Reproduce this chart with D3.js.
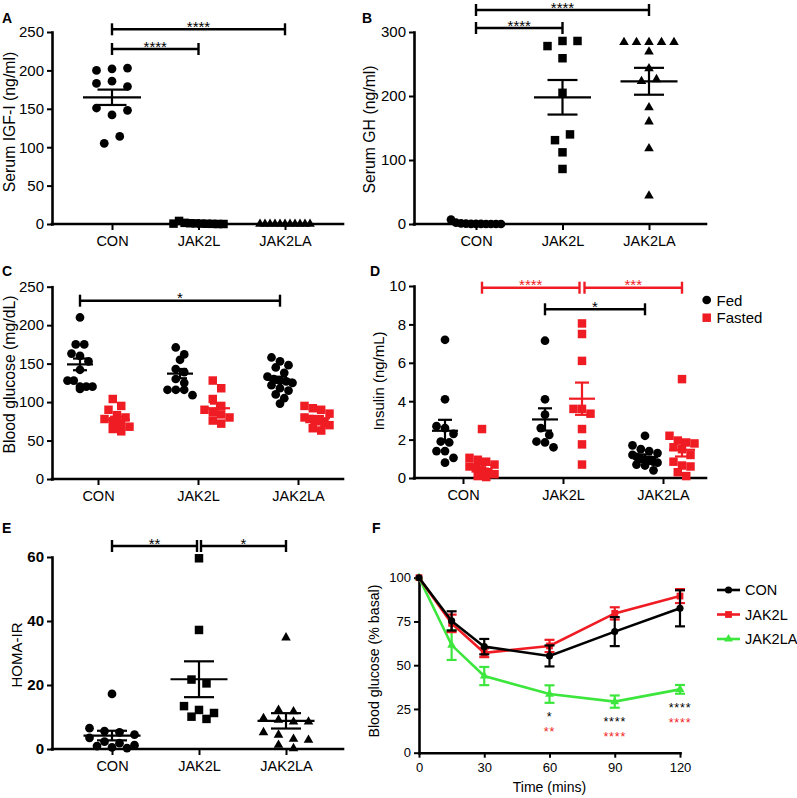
<!DOCTYPE html>
<html><head><meta charset="utf-8">
<script src="https://cdn.jsdelivr.net/npm/d3@7"></script>
<style>body{margin:0;background:#fff}svg{display:block}</style>
</head><body><svg id="c" width="797" height="798"></svg>
<script>
// ---------------- DATA ----------------
const groups = ["CON", "JAK2L", "JAK2LA"];

// A: Serum IGF-I (ng/ml)
const igfCON = [200, 202, 203, 183, 186, 179, 151, 142, 148, 105, 114];
const igfJAK2L = [0.5, 4, 1.5, 1, 0.8, 0.5, 0.3, 0.2, 0, 0];
const igfJAK2LA = [0, 0, 0, 0, 0, 0, 0, 0, 0, 0, 0];
const igfMean = [165, 0.9, 0];
const igfSem = [10, 0.4, 0];

// B: Serum GH (ng/ml)
const ghCON = [7, 2, 1, 0.5, 0.3, 0.2, 0.1, 0, 0, 0, 0];
const ghJAK2L = [278, 286, 286, 259, 205, 131, 140, 112, 86];
const ghJAK2LA = [284, 284, 284, 284, 284, 269, 243, 223, 226, 182, 160, 118, 44];
const ghMean = [1, 198, 223];
const ghSem = [0.6, 27, 21];

// C: Blood glucose (mg/dL)
const gluFedCON = [210, 175, 175, 163, 160, 153, 142, 128, 128, 120, 120, 120, 117];
const gluFedJAK2L = [171, 162, 155, 143, 139, 130, 125, 116, 116, 116, 109];
const gluFedJAK2LA = [158, 153, 148, 145, 138, 133, 130, 128, 127, 125, 122, 118, 115, 110, 105, 98];
const gluFastCON = [104, 95, 90, 83, 80, 78, 75, 72, 68, 65, 62];
const gluFastJAK2L = [128, 118, 104, 95, 90, 87, 84, 80, 76, 72];
const gluFastJAK2LA = [95, 92, 90, 85, 80, 78, 76, 75, 73, 70, 66, 63];
const gluFedMean = [149, 137, 129];
const gluFedSem = [7.6, 6, 4];
const gluFastMean = [77, 92, 79];
const gluFastSem = [4, 6, 3];

// D: Insulin (ng/mL)
const insFedCON = [7.2, 4.1, 2.7, 2.6, 2.3, 1.9, 1.85, 1.4, 1.4, 1.05, 0.8];
const insFedJAK2L = [7.15, 4.1, 3.3, 2.6, 2.25, 1.9, 1.85, 1.6];
const insFedJAK2LA = [2.2, 1.7, 1.5, 1.4, 1.3, 1.2, 1.1, 1.0, 0.95, 0.9, 0.85, 0.8, 0.7, 0.65, 0.4];
const insFastCON = [2.55, 1.05, 0.95, 0.85, 0.7, 0.6, 0.5, 0.4, 0.3, 0.2, 0.1, 0.05];
const insFastJAK2L = [8.05, 7.5, 6.1, 3.6, 3.6, 3.35, 2.55, 1.75, 0.7];
const insFastJAK2LA = [5.15, 2.2, 1.95, 1.85, 1.8, 1.6, 1.5, 1.2, 0.85, 0.65, 0.6, 0.3, 0.1];
const insFedMean = [2.46, 3.05, 1.1];
const insFedSem = [0.57, 0.58, 0.13];
const insFastMean = [0.69, 4.13, 1.47];
const insFastSem = [0.2, 0.84, 0.35];

// E: HOMA-IR
const homaCON = [17.2, 6.5, 5.6, 5.2, 4.5, 3.5, 2.3, 1.8, 1.2, 0.9, 0.5, 0.3];
const homaJAK2L = [59.6, 37.2, 21.7, 20.5, 13.4, 12.2, 11.25, 10.1, 9.4];
const homaJAK2LA = [34.8, 12.2, 11.7, 9.6, 9.1, 8.5, 8.5, 5.2, 4.4, 3.1, 2.8, 1.25, 0.2];
const homaMean = [4.2, 21.8, 8.8];
const homaSem = [1.5, 5.6, 2.4];

// F: ITT Blood glucose (% basal)
const timeMins = [0, 15, 30, 60, 90, 120];
const ittCON = [100, 75.3, 60.6, 55.3, 69.2, 82.5];
const ittCONsem = [0, 5.5, 4.4, 6, 8.3, 10.3];
const ittJAK2L = [100, 73.9, 57.1, 61, 79.6, 89.5];
const ittJAK2Lsem = [0, 5, 2.5, 3.5, 3.5, 4];
const ittJAK2LA = [100, 61.5, 43.8, 33.5, 29.2, 36.2];
const ittJAK2LAsem = [0, 8.5, 5.2, 5, 3.5, 2.5];
const ittSigTimes = [60, 90, 120];
const ittSigVsCON = ["*", "****", "****"];
const ittSigVsJAK2L = ["**", "****", "****"];

// ---------------- DRAWING ----------------
const FONT = '"Liberation Sans", Arial, Helvetica, sans-serif';
const RED = "#ef1c24", GREEN = "#3de63d", BLACK = "#000";
const svg = d3.select("#c").style("font-family", FONT);
svg.append("rect").attr("width", 797).attr("height", 798).attr("fill", "#fff");

function line(g, x1, y1, x2, y2, color, w) {
  g.append("line").attr("x1", x1).attr("y1", y1).attr("x2", x2).attr("y2", y2)
    .attr("stroke", color).attr("stroke-width", w);
}

// row-based scatter spreading (points at similar height are spread side by side)
function swarm(vals, y, spacing, maxSpan, binH) {
  const idx = vals.map((v, i) => i).sort((a, b) => vals[b] - vals[a]);
  const rows = []; let cur = null;
  idx.forEach(i => {
    const py = y(vals[i]);
    if (cur && Math.abs(py - cur.y0) < binH) cur.items.push(i);
    else { cur = { y0: py, items: [i] }; rows.push(cur); }
  });
  const off = new Array(vals.length).fill(0);
  rows.forEach(r => {
    const n = r.items.length; if (n < 2) return;
    const s = Math.min(spacing, maxSpan / (n - 1));
    r.items.slice().sort((a, b) => a - b).forEach((i, k) => off[i] = (k - (n - 1) / 2) * s);
  });
  return off;
}

const SHAPES = {
  circle: d3.symbol(d3.symbolCircle, 60)(),
  square: d3.symbol(d3.symbolSquare, 72)(),
  triangle: d3.symbol(d3.symbolTriangle, 40)(),
  circleS: d3.symbol(d3.symbolCircle, 40)(),
  squareS: d3.symbol(d3.symbolSquare, 46)(),
  triangleS: d3.symbol(d3.symbolTriangle, 34)()
};

function styleAxis(ag, fs, bold) {
  ag.select(".domain").attr("stroke", "#000").attr("stroke-width", 2.6).attr("stroke-linecap", "square");
  ag.selectAll(".tick line").attr("stroke", "#000").attr("stroke-width", 2);
  ag.selectAll(".tick text").attr("fill", "#000").style("font-size", fs + "px")
    .style("font-family", FONT).style("font-weight", bold ? "bold" : "normal");
}

function bracket(g, xa, xb, y, label, color) {
  line(g, xa, y, xb, y, color, 2.4);
  line(g, xa, y - 6, xa, y + 6, color, 2.4);
  line(g, xb, y - 6, xb, y + 6, color, 2.4);
  g.append("text").attr("x", (xa + xb) / 2).attr("y", y + 2.6).attr("text-anchor", "middle")
    .style("font-size", "15px").attr("fill", color).text(label);
}

function drawMeanSem(g, cx, y, m, e, meanW, capW, color) {
  line(g, cx - meanW, y(m), cx + meanW, y(m), color, 2.2);
  line(g, cx, y(m + e), cx, y(m - e), color, 2.2);
  line(g, cx - capW, y(m + e), cx + capW, y(m + e), color, 2.2);
  line(g, cx - capW, y(m - e), cx + capW, y(m - e), color, 2.2);
}

function frame(cfg) {
  const g = svg.append("g");
  const y = d3.scaleLinear().domain(cfg.yDomain).range([cfg.yBot, cfg.yTop]);
  const x = d3.scalePoint().domain(groups).range(cfg.catRange);
  const ya = d3.axisLeft(y).tickValues(cfg.yTicks).tickSize(5).tickSizeOuter(0).tickPadding(3);
  const yg = g.append("g").attr("transform", `translate(${cfg.x0},0)`).call(ya);
  styleAxis(yg, cfg.tickFs, cfg.boldTicks);
  const xa = d3.axisBottom(x).tickSize(6).tickSizeOuter(0).tickPadding(6);
  const xg = g.append("g").attr("transform", `translate(0,${cfg.yBot})`).call(xa);
  xg.select(".domain").attr("d", `M${cfg.x0},0H${cfg.x1}`);
  styleAxis(xg, 14.5, false);
  g.append("text").attr("transform", `translate(${cfg.titleX},${cfg.titleY}) rotate(-90)`)
    .attr("text-anchor", "middle").style("font-size", cfg.titleFs + "px").attr("fill", "#000").text(cfg.title);
  g.append("text").attr("x", cfg.lab[0]).attr("y", cfg.lab[1]).style("font-size", "14px")
    .style("font-weight", "bold").attr("fill", "#000").text(cfg.label);
  return { g, x, y };
}

// Panels with two series (Fed / Fasted) side by side in each group
function pairedPanel(cfg) {
  const { g, x, y } = frame(cfg);
  cfg.series.forEach(s => {
    groups.forEach((grp, gi) => {
      const vals = s.values[gi];
      const cx = x(grp) + s.dx;
      const offs = swarm(vals, y, cfg.spacing, cfg.maxSpan, cfg.binH);
      vals.forEach((v, i) => g.append("path").attr("d", SHAPES[s.shape])
        .attr("transform", `translate(${cx + offs[i]},${y(v)})`).attr("fill", s.color));
      drawMeanSem(g, cx, y, s.mean[gi], s.sem[gi], cfg.meanW, cfg.capW, s.color);
    });
  });
  cfg.sig.forEach(b => {
    const xa = x(b.from) + cfg.series[b.s].dx + (b.nudgeA || 0);
    const xb = x(b.to) + cfg.series[b.s].dx + (b.nudgeB || 0);
    bracket(g, xa, xb, b.y, b.label, b.color || BLACK);
  });
}

// Panels with one series, symbol shape per group
const shapesByGroup = ["circle", "square", "triangle"];
function groupShapePanel(cfg) {
  const { g, x, y } = frame(cfg);
  groups.forEach((grp, gi) => {
    const vals = cfg.values[gi];
    const cx = x(grp);
    const offs = swarm(vals, y, cfg.spacing, cfg.maxSpan, cfg.binH);
    vals.forEach((v, i) => g.append("path").attr("d", SHAPES[shapesByGroup[gi]])
      .attr("transform", `translate(${cx + offs[i]},${y(v)})`).attr("fill", BLACK));
    drawMeanSem(g, cx, y, cfg.mean[gi], cfg.sem[gi], cfg.meanW, cfg.capW, BLACK);
  });
  cfg.sig.forEach(b => bracket(g, x(b.from) + (b.nudgeA || 0), x(b.to) + (b.nudgeB || 0), b.y, b.label, BLACK));
}

// A
groupShapePanel({
  label: "A", lab: [2, 23],
  x0: 52, x1: 343, yTop: 32, yBot: 224, yDomain: [0, 250], yTicks: [0, 50, 100, 150, 200, 250],
  catRange: [112, 285], tickFs: 15, title: "Serum IGF-I (ng/ml)", titleX: 14.5, titleY: 122, titleFs: 15.8,
  spacing: 15.5, maxSpan: 50, binH: 8, meanW: 29, capW: 14.5,
  values: [igfCON, igfJAK2L, igfJAK2LA], mean: igfMean, sem: igfSem,
  sig: [{ from: "CON", to: "JAK2LA", y: 29.3, label: "****" }, { from: "CON", to: "JAK2L", y: 49, label: "****" }]
});

// B
groupShapePanel({
  label: "B", lab: [362, 23],
  x0: 414, x1: 706, yTop: 32, yBot: 224, yDomain: [0, 300], yTicks: [0, 100, 200, 300],
  catRange: [476, 649], tickFs: 15, title: "Serum GH (ng/ml)", titleX: 375, titleY: 129.5, titleFs: 15.8,
  spacing: 15, maxSpan: 50, binH: 8, meanW: 28.5, capW: 15,
  values: [ghCON, ghJAK2L, ghJAK2LA], mean: ghMean, sem: ghSem,
  sig: [{ from: "CON", to: "JAK2LA", y: 10, label: "****" }, { from: "CON", to: "JAK2L", y: 28, label: "****" }]
});

// C
pairedPanel({
  label: "C", lab: [2, 276],
  x0: 52, x1: 343, yTop: 286.7, yBot: 479, yDomain: [0, 250], yTicks: [0, 50, 100, 150, 200, 250],
  catRange: [98, 298], tickFs: 15, title: "Blood glucose (mg/dL)", titleX: 14.5, titleY: 374.5, titleFs: 15.8,
  spacing: 8.5, maxSpan: 25, binH: 8, meanW: 13, capW: 7,
  series: [
    { shape: "circle", color: BLACK, dx: -18, values: [gluFedCON, gluFedJAK2L, gluFedJAK2LA], mean: gluFedMean, sem: gluFedSem },
    { shape: "square", color: RED, dx: 19, values: [gluFastCON, gluFastJAK2L, gluFastJAK2LA], mean: gluFastMean, sem: gluFastSem }
  ],
  sig: [{ from: "CON", to: "JAK2LA", s: 0, y: 300.7, label: "*" }]
});

// D
pairedPanel({
  label: "D", lab: [370, 276],
  x0: 414, x1: 706, yTop: 286, yBot: 478, yDomain: [0, 10], yTicks: [0, 2, 4, 6, 8, 10],
  catRange: [463, 663], tickFs: 15, title: "Insulin (ng/mL)", titleX: 384, titleY: 381, titleFs: 15,
  spacing: 8.5, maxSpan: 25, binH: 8, meanW: 13, capW: 7,
  series: [
    { shape: "circle", color: BLACK, dx: -18, values: [insFedCON, insFedJAK2L, insFedJAK2LA], mean: insFedMean, sem: insFedSem },
    { shape: "square", color: RED, dx: 19, values: [insFastCON, insFastJAK2L, insFastJAK2LA], mean: insFastMean, sem: insFastSem }
  ],
  sig: [
    { from: "CON", to: "JAK2L", s: 1, y: 287.7, label: "****", color: RED, nudgeB: -2.5 },
    { from: "JAK2L", to: "JAK2LA", s: 1, y: 287.7, label: "***", color: RED, nudgeA: 2.5 },
    { from: "JAK2L", to: "JAK2LA", s: 0, y: 309.3, label: "*" }
  ]
});
// D legend
(function () {
  const g = svg.append("g");
  const items = [["Fed", "circle", BLACK], ["Fasted", "square", RED]];
  items.forEach((it, i) => {
    const yy = 300 + i * 17.7;
    g.append("path").attr("d", SHAPES[it[1]]).attr("transform", `translate(706.7,${yy})`).attr("fill", it[2]);
    g.append("text").attr("x", 716.5).attr("y", yy + 5.5).style("font-size", "15px").attr("fill", "#000").text(it[0]);
  });
})();

// E
groupShapePanel({
  label: "E", lab: [2, 533],
  x0: 52, x1: 343, yTop: 557, yBot: 749, yDomain: [0, 60], yTicks: [0, 20, 40, 60],
  catRange: [112, 286], tickFs: 15, boldTicks: true, title: "HOMA-IR", titleX: 22, titleY: 655, titleFs: 15,
  spacing: 15, maxSpan: 50, binH: 8, meanW: 28.5, capW: 15,
  values: [homaCON, homaJAK2L, homaJAK2LA], mean: homaMean, sem: homaSem,
  sig: [
    { from: "CON", to: "JAK2L", y: 546, label: "**", nudgeB: -2 },
    { from: "JAK2L", to: "JAK2LA", y: 546, label: "*", nudgeA: 2 }
  ]
});

// F
(function () {
  const g = svg.append("g");
  const x = d3.scaleLinear().domain([0, 120]).range([419, 680]);
  const y = d3.scaleLinear().domain([0, 100]).range([752.7, 577.7]);
  const ya = d3.axisLeft(y).tickValues([0, 25, 50, 75, 100]).tickSize(5).tickSizeOuter(0).tickPadding(3);
  const yg = g.append("g").attr("transform", "translate(419,0)").call(ya);
  styleAxis(yg, 13, false);
  const xa = d3.axisBottom(x).tickValues([0, 30, 60, 90, 120]).tickSize(5).tickSizeOuter(0).tickPadding(5);
  const xg = g.append("g").attr("transform", "translate(0,752.7)").call(xa);
  styleAxis(xg, 13, false);
  g.append("text").attr("x", 549.5).attr("y", 792).attr("text-anchor", "middle").style("font-size", "14px").text("Time (mins)");
  g.append("text").attr("transform", "translate(379,661) rotate(-90)").attr("text-anchor", "middle")
    .style("font-size", "14.2px").text("Blood glucose (% basal)");
  const series = [
    { name: "JAK2LA", v: ittJAK2LA, e: ittJAK2LAsem, color: GREEN, shape: "triangleS" },
    { name: "JAK2L", v: ittJAK2L, e: ittJAK2Lsem, color: RED, shape: "squareS" },
    { name: "CON", v: ittCON, e: ittCONsem, color: BLACK, shape: "circleS" }
  ];
  const ln = d3.line().x((d, i) => x(timeMins[i])).y(d => y(d));
  series.forEach(s => {
    timeMins.forEach((t, i) => {
      if (!s.e[i]) return;
      const cx = x(t);
      line(g, cx, y(s.v[i] + s.e[i]), cx, y(s.v[i] - s.e[i]), s.color, 2.2);
      line(g, cx - 5, y(s.v[i] + s.e[i]), cx + 5, y(s.v[i] + s.e[i]), s.color, 2.2);
      line(g, cx - 5, y(s.v[i] - s.e[i]), cx + 5, y(s.v[i] - s.e[i]), s.color, 2.2);
    });
    g.append("path").attr("d", ln(s.v)).attr("fill", "none").attr("stroke", s.color).attr("stroke-width", 2.6);
    s.v.forEach((v, i) => g.append("path").attr("d", SHAPES[s.shape])
      .attr("transform", `translate(${x(timeMins[i])},${y(v)})`).attr("fill", s.color));
  });
  // significance stars under JAK2LA (vs CON in black, vs JAK2L in red)
  ittSigTimes.forEach((t, k) => {
    const i = timeMins.indexOf(t);
    const low = y(ittJAK2LA[i] - ittJAK2LAsem[i]);
    g.append("text").attr("x", x(t)).attr("y", low + 18.5).attr("text-anchor", "middle")
      .style("font-size", "12.5px").style("letter-spacing", "0.8px").attr("fill", BLACK).text(ittSigVsCON[k]);
    g.append("text").attr("x", x(t)).attr("y", low + 33).attr("text-anchor", "middle")
      .style("font-size", "12.5px").style("letter-spacing", "0.8px").attr("fill", RED).text(ittSigVsJAK2L[k]);
  });
  // legend
  const leg = [["CON", BLACK, "circleS"], ["JAK2L", RED, "squareS"], ["JAK2LA", GREEN, "triangleS"]];
  leg.forEach((l, i) => {
    const yy = 590 + i * 24.5;
    line(g, 717, yy, 740, yy, l[1], 2.6);
    g.append("path").attr("d", SHAPES[l[2]]).attr("transform", `translate(728.5,${yy})`).attr("fill", l[1]);
    g.append("text").attr("x", 745).attr("y", yy + 5).style("font-size", "14.5px").text(l[0]);
  });
  g.append("text").attr("x", 372).attr("y", 533).style("font-size", "14px").style("font-weight", "bold").text("F");
})();
</script></body></html>
